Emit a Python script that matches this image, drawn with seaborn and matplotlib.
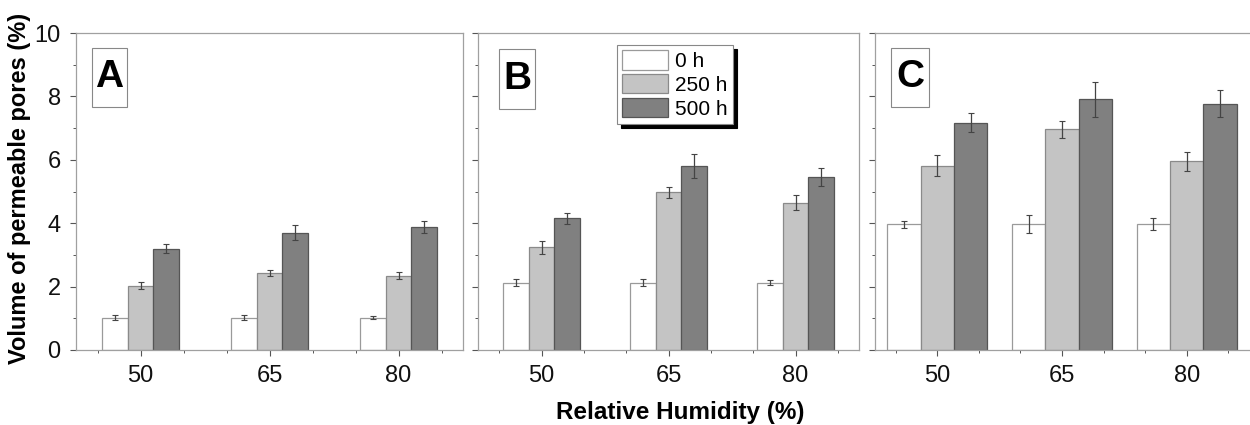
import matplotlib
matplotlib.use("Agg")
import matplotlib.pyplot as plt
from matplotlib.patches import Rectangle, Patch
from matplotlib.ticker import MultipleLocator, FixedLocator, NullFormatter
import numpy as np
import pandas as pd
import seaborn as sns

sns.set_theme(style="white")
plt.rcParams["font.family"] = ["Liberation Sans", "DejaVu Sans"]
plt.rcParams["text.color"] = "black"

humidity = ["50", "65", "80"]
times = ["0 h", "250 h", "500 h"]
panels = ["A", "B", "C"]

# values per panel, per time series (order: 50, 65, 80)
A_0h = [1.02, 1.02, 1.02]
A_250h = [2.03, 2.44, 2.35]
A_500h = [3.19, 3.70, 3.88]
A_0h_err = [0.07, 0.07, 0.05]
A_250h_err = [0.12, 0.09, 0.12]
A_500h_err = [0.14, 0.23, 0.19]

B_0h = [2.12, 2.12, 2.12]
B_250h = [3.24, 4.97, 4.65]
B_500h = [4.15, 5.80, 5.45]
B_0h_err = [0.11, 0.11, 0.08]
B_250h_err = [0.20, 0.18, 0.23]
B_500h_err = [0.17, 0.37, 0.28]

C_0h = [3.97, 3.97, 3.97]
C_250h = [5.81, 6.96, 5.95]
C_500h = [7.17, 7.91, 7.77]
C_0h_err = [0.11, 0.28, 0.18]
C_250h_err = [0.33, 0.27, 0.30]
C_500h_err = [0.30, 0.55, 0.42]

data = {
    "A": ([A_0h, A_250h, A_500h], [A_0h_err, A_250h_err, A_500h_err]),
    "B": ([B_0h, B_250h, B_500h], [B_0h_err, B_250h_err, B_500h_err]),
    "C": ([C_0h, C_250h, C_500h], [C_0h_err, C_250h_err, C_500h_err]),
}

colors = ["#ffffff", "#c4c4c4", "#808080"]
edgecols = ["#9a9a9a", "#8a8a8a", "#555555"]
spine_col = "#a0a0a0"

fig = plt.figure(figsize=(12.5, 4.25), dpi=100)
W, H = 1250, 425
boxes = {"A": (76, 463), "B": (478, 859), "C": (875, 1249)}
widths = {"A": 0.6, "B": 0.6, "C": 0.8}
letter_boxes = {"A": (0.041, 0.132, 0.767, 0.953),
                "B": (0.055, 0.150, 0.760, 0.950),
                "C": (0.043, 0.144, 0.767, 0.953)}
y_top, y_bot = 33, 350

for p in panels:
    x0, x1 = boxes[p]
    ax = fig.add_axes([x0 / W, 1 - y_bot / H, (x1 - x0) / W, (y_bot - y_top) / H])
    vals, errs = data[p]
    rows = []
    for t, v in zip(times, vals):
        for h, val in zip(humidity, v):
            rows.append({"RH": h, "time": t, "value": val})
    df = pd.DataFrame(rows)
    sns.barplot(data=df, x="RH", y="value", hue="time", order=humidity,
                hue_order=times, palette=colors, width=widths[p],
                errorbar=None, legend=False, ax=ax, saturation=1)
    bar_conts = list(ax.containers)
    for ci, cont in enumerate(bar_conts):
        xs = [b.get_x() + b.get_width() / 2 for b in cont]
        hs = [b.get_height() for b in cont]
        for b in cont:
            b.set_edgecolor(edgecols[ci])
            b.set_linewidth(0.9)
        ax.errorbar(xs, hs, yerr=errs[ci], fmt="none", ecolor="#444444",
                    elinewidth=0.9, capsize=2.5, capthick=0.8, zorder=5)
    ax.set_xlim(-0.5, 2.5)
    ax.set_ylim(0, 10)
    ax.yaxis.set_major_locator(MultipleLocator(2))
    ax.yaxis.set_minor_locator(MultipleLocator(1))
    ax.xaxis.set_minor_locator(FixedLocator([-1/3, 1/3, 2/3, 4/3, 5/3, 7/3]))
    ax.tick_params(axis="both", which="both", direction="out", color="#555555",
                   left=True, bottom=True)
    ax.tick_params(axis="both", which="major", length=4, width=0.8, labelsize=17,
                   labelcolor="#111111", pad=7)
    ax.tick_params(axis="both", which="minor", length=2.5, width=0.7)
    ax.set_xlabel("")
    ax.set_ylabel("")
    if p != "A":
        ax.yaxis.set_major_formatter(NullFormatter())
    for s in ax.spines.values():
        s.set_color(spine_col)
        s.set_linewidth(0.9)
    if p == "C":
        ax.spines["right"].set_visible(False)
    lx0, lx1, ly0, ly1 = letter_boxes[p]
    ax.add_patch(Rectangle((lx0, ly0), lx1 - lx0, ly1 - ly0, transform=ax.transAxes,
                           fill=False, edgecolor="#888888", linewidth=0.8, zorder=6))
    ax.text((lx0 + lx1) / 2, (ly0 + ly1) / 2, p, transform=ax.transAxes,
            ha="center", va="center", fontsize=28, fontweight="bold", color="black",
            zorder=7)
    if p == "B":
        handles = [Patch(facecolor=c, edgecolor=e, linewidth=0.9)
                   for c, e in zip(colors, edgecols)]
        leg = ax.legend(handles, times, loc="upper left", bbox_to_anchor=(0.365, 0.962),
                        borderaxespad=0, fontsize=15, frameon=True, fancybox=False,
                        edgecolor="#888888", framealpha=1,
                        shadow={"color": "black", "alpha": 1, "ox": 3, "oy": -3},
                        handlelength=2.2, handleheight=1.05, labelspacing=0.15,
                        handletextpad=0.35, borderpad=0.25, labelcolor="black")
        leg.get_frame().set_linewidth(0.8)

fig.text(20 / W, 1 - 188 / H, "Volume of permeable pores (%)", rotation=90,
         ha="center", va="center", fontsize=17, fontweight="bold", color="black")
fig.text(680 / W, 1 - 413 / H, "Relative Humidity (%)", ha="center", va="center",
         fontsize=17.5, fontweight="bold", color="black")

fig.savefig("out.png", dpi=100, facecolor="white")
